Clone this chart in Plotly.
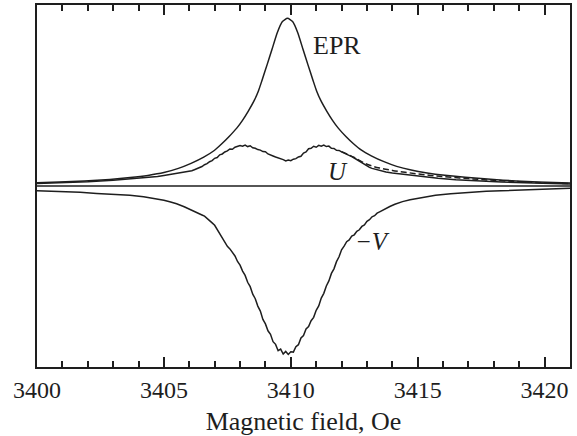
import plotly.graph_objects as go

# ---------------- data ----------------
epr_x = [3400.0, 3400.87, 3401.87, 3402.87, 3403.67, 3404.37, 3405.0, 3405.57, 3406.07, 3406.57,
         3406.97, 3407.27, 3407.57, 3407.87, 3408.09, 3408.32, 3408.56, 3408.72, 3408.87,
         3409.07, 3409.26, 3409.47, 3409.67, 3409.87, 3410.07, 3410.27, 3410.48, 3410.67,
         3410.87, 3411.02, 3411.18, 3411.42, 3411.65, 3411.87, 3412.17, 3412.47, 3412.77,
         3413.17, 3413.67, 3414.17, 3414.74, 3415.37, 3416.07, 3416.87, 3417.87, 3418.87,
         3419.74, 3421.0]
epr_y = [0.020, 0.024, 0.030, 0.039, 0.050, 0.063, 0.080, 0.105, 0.135, 0.172,
         0.210, 0.250, 0.295, 0.345, 0.390, 0.445, 0.510, 0.565, 0.632,
         0.725, 0.815, 0.915, 0.980, 1.000, 0.980, 0.915, 0.815, 0.725,
         0.632, 0.565, 0.510, 0.445, 0.390, 0.345, 0.295, 0.252, 0.215,
         0.180, 0.145, 0.117, 0.095, 0.078, 0.064, 0.052, 0.040, 0.030,
         0.024, 0.018]

u_x = [3400.0, 3401.0, 3402.0, 3403.0, 3404.0, 3404.5, 3404.75, 3405.0, 3405.25, 3405.5, 3405.75,
       3406.0, 3406.1, 3406.2, 3406.3, 3406.4, 3406.5, 3406.6, 3406.7, 3406.8, 3406.9,
       3407.0, 3407.1, 3407.2, 3407.3, 3407.4, 3407.5, 3407.6, 3407.7, 3407.8, 3407.9,
       3408.0, 3408.1, 3408.2, 3408.3, 3408.4, 3408.5, 3408.6, 3408.7, 3408.8, 3408.9,
       3409.0, 3409.1, 3409.2, 3409.3, 3409.4, 3409.5, 3409.6, 3409.7, 3409.8, 3409.9,
       3410.0, 3410.1, 3410.2, 3410.3, 3410.4, 3410.5, 3410.6, 3410.7, 3410.8, 3410.9,
       3411.0, 3411.1, 3411.2, 3411.3, 3411.4, 3411.5, 3411.6, 3411.7, 3411.8, 3411.9,
       3412.0, 3412.1, 3412.2, 3412.3, 3412.4, 3412.5, 3412.6, 3412.7, 3412.8, 3412.9,
       3413.0, 3413.1, 3413.2, 3413.35, 3413.5, 3413.75, 3414.0, 3414.4, 3414.8, 3415.3,
       3415.8, 3416.5, 3417.4, 3418.3, 3419.2, 3420.0, 3421.0]
u_y = [0.015, 0.019, 0.025, 0.034, 0.045, 0.052, 0.056, 0.062, 0.068, 0.074, 0.080,
       0.087, 0.091, 0.097, 0.102, 0.110, 0.116, 0.127, 0.133, 0.145, 0.151,
       0.165, 0.170, 0.186, 0.191, 0.203, 0.209, 0.221, 0.219, 0.231, 0.234,
       0.241, 0.237, 0.244, 0.235, 0.240, 0.228, 0.225, 0.217, 0.214, 0.205,
       0.204, 0.191, 0.187, 0.179, 0.173, 0.169, 0.161, 0.157, 0.150, 0.155,
       0.151, 0.160, 0.163, 0.173, 0.177, 0.196, 0.203, 0.222, 0.225, 0.237,
       0.231, 0.242, 0.237, 0.244, 0.235, 0.238, 0.225, 0.224, 0.213, 0.212,
       0.203, 0.197, 0.191, 0.181, 0.175, 0.167, 0.157, 0.147, 0.137, 0.127,
       0.118, 0.111, 0.105, 0.098, 0.092, 0.084, 0.078, 0.071, 0.063, 0.054,
       0.046, 0.038, 0.030, 0.024, 0.019, 0.015, 0.012]

ufit_x = [3412.0, 3412.5, 3413.0, 3413.5, 3414.0, 3414.5, 3415.0, 3415.5, 3416.0,
          3417.0, 3418.0, 3419.0, 3420.0, 3421.0]
ufit_y = [0.205, 0.170, 0.130, 0.107, 0.093, 0.082, 0.072, 0.063, 0.056,
          0.044, 0.034, 0.026, 0.019, 0.014]

v_x = [3400.0, 3400.5, 3401.0, 3401.7, 3402.35, 3403.0, 3403.66, 3404.2, 3404.7, 3405.0,
       3405.23, 3405.5, 3405.8,
       3406.0, 3406.1, 3406.2, 3406.3, 3406.4, 3406.5, 3406.6, 3406.7, 3406.8, 3406.9,
       3407.0, 3407.1, 3407.2, 3407.3, 3407.4, 3407.5, 3407.6, 3407.7, 3407.8, 3407.9,
       3408.0, 3408.1, 3408.2, 3408.3, 3408.4, 3408.5, 3408.6, 3408.7, 3408.8, 3408.9,
       3409.0, 3409.1, 3409.2, 3409.3, 3409.4, 3409.5, 3409.6, 3409.7, 3409.8, 3409.9,
       3410.0, 3410.1, 3410.2, 3410.3, 3410.4, 3410.5, 3410.6, 3410.7, 3410.8, 3410.9,
       3411.0, 3411.1, 3411.2, 3411.3, 3411.4, 3411.5, 3411.6, 3411.7, 3411.8, 3411.9,
       3412.0, 3412.1, 3412.2, 3412.3, 3412.4, 3412.5, 3412.6, 3412.7, 3412.8, 3412.9,
       3413.0, 3413.1, 3413.2, 3413.3, 3413.4, 3413.5,
       3413.7, 3413.9, 3414.1, 3414.4, 3414.7, 3415.0, 3415.4, 3415.7, 3416.3, 3417.0,
       3417.7, 3418.3, 3419.0, 3419.8, 3421.0]
v_y = [-0.028, -0.030, -0.033, -0.038, -0.044, -0.049, -0.055, -0.064, -0.076, -0.085,
       -0.094, -0.106, -0.124,
       -0.137, -0.145, -0.149, -0.158, -0.162, -0.173, -0.180, -0.193, -0.201, -0.220,
       -0.234, -0.259, -0.279, -0.309, -0.328, -0.360, -0.375, -0.398, -0.417, -0.450,
       -0.472, -0.507, -0.533, -0.574, -0.600, -0.645, -0.672, -0.716, -0.746, -0.795,
       -0.822, -0.863, -0.884, -0.928, -0.944, -0.982, -0.972, -1.002, -0.986, -1.004,
       -0.988, -0.990, -0.958, -0.946, -0.906, -0.891, -0.852, -0.838, -0.803, -0.783,
       -0.741, -0.715, -0.668, -0.640, -0.596, -0.566, -0.521, -0.494, -0.451, -0.422,
       -0.380, -0.359, -0.332, -0.321, -0.299, -0.291, -0.270, -0.261, -0.241, -0.232,
       -0.211, -0.201, -0.184, -0.177, -0.162, -0.154,
       -0.137, -0.122, -0.109, -0.093, -0.082, -0.073, -0.062, -0.055, -0.046, -0.038,
       -0.032, -0.028, -0.023, -0.018, -0.013]

zero_x = [3400.0, 3421.0]
zero_y = [0.0, 0.0]

tick_vals = [3400, 3405, 3410, 3415, 3420]
tick_text = ["3400", "3405", "3410", "3415", "3420"]

# ---------------- figure ----------------
INK = "#1e1e1e"
FONT = "Liberation Serif"
lw = 1.5

fig = go.Figure()
fig.add_trace(go.Scatter(x=zero_x, y=zero_y, mode="lines", line=dict(color=INK, width=lw)))
fig.add_trace(go.Scatter(x=epr_x, y=epr_y, mode="lines",
                         line=dict(color=INK, width=lw, shape="spline", smoothing=0.6)))
fig.add_trace(go.Scatter(x=ufit_x, y=ufit_y, mode="lines",
                         line=dict(color=INK, width=lw, dash="6px,3px", shape="spline")))
fig.add_trace(go.Scatter(x=u_x, y=u_y, mode="lines", line=dict(color=INK, width=lw)))
fig.add_trace(go.Scatter(x=v_x, y=v_y, mode="lines", line=dict(color=INK, width=lw)))
# carrier trace for the top (mirrored) tick axis
fig.add_trace(go.Scatter(x=zero_x, y=zero_y, xaxis="x2", mode="lines",
                         line=dict(color="rgba(0,0,0,0)", width=0), hoverinfo="skip"))

fig.add_annotation(x=3411.82, y=0.84, text="EPR", showarrow=False,
                   font=dict(family=FONT, size=26, color=INK))
fig.add_annotation(x=3411.84, y=0.089, text="<i>U</i>", showarrow=False,
                   font=dict(family=FONT, size=25, color=INK))
fig.add_annotation(x=3413.2, y=-0.33, text="<i>\u2212V</i>", showarrow=False,
                   font=dict(family=FONT, size=25, color=INK))

fig.update_layout(
    width=577, height=436,
    margin=dict(l=37, r=7, t=5, b=69),
    paper_bgcolor="white", plot_bgcolor="white",
    showlegend=False,
    font=dict(family=FONT, color=INK),
    xaxis=dict(
        range=[3400, 3421], tickmode="array", tickvals=tick_vals, ticktext=tick_text,
        ticks="inside", ticklen=10, tickwidth=1.5, tickcolor=INK,
        minor=dict(dtick=1, ticks="inside", ticklen=6, tickwidth=1.5, tickcolor=INK, showgrid=False),
        showline=True, linewidth=2, linecolor=INK, mirror=True,
        showgrid=False, zeroline=False, automargin=False,
        tickfont=dict(family=FONT, size=24, color=INK),
        title=dict(text="Magnetic field, Oe", font=dict(family=FONT, size=26, color=INK), standoff=10),
    ),
    xaxis2=dict(
        overlaying="x", side="top", matches="x",
        range=[3400, 3421], tickmode="array", tickvals=tick_vals, showticklabels=False,
        ticks="inside", ticklen=10, tickwidth=1.5, tickcolor=INK,
        minor=dict(dtick=1, ticks="inside", ticklen=6, tickwidth=1.5, tickcolor=INK, showgrid=False),
        showline=False, showgrid=False, zeroline=False,
    ),
    yaxis=dict(
        range=[-1.079, 1.079], showticklabels=False, ticks="",
        showline=True, linewidth=2, linecolor=INK, mirror=True,
        showgrid=False, zeroline=False,
    ),
)

fig.write_html("out.html", config={"displayModeBar": False},
               post_script="document.body.style.margin='0';")
